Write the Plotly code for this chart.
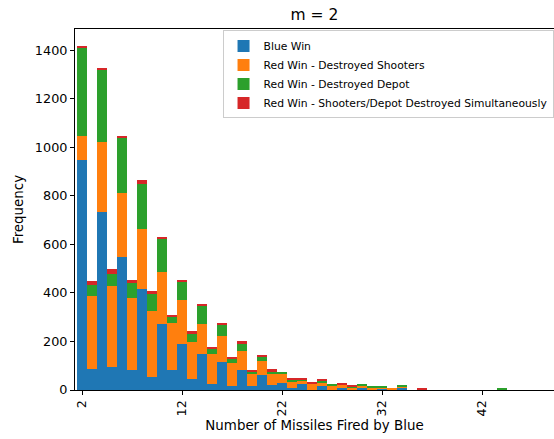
import plotly.graph_objects as go

missiles = [2, 3, 4, 5, 6, 7, 8, 9, 10, 11, 12, 13, 14, 15, 16, 17, 18, 19, 20,
            21, 22, 23, 24, 25, 26, 27, 28, 29, 30, 31, 32, 33, 34, 35, 36, 44]
blue_win = [949, 85, 732, 93, 546, 81, 418, 52, 270, 81, 188, 44, 147, 23, 114, 15, 81, 15, 60,
            19, 27, 7, 23, 0, 15, 0, 7, 4, 7, 4, 7, 0, 11, 0, 0, 0]
red_shooters = [99, 302, 291, 334, 267, 300, 247, 272, 218, 197, 182, 152, 123, 124, 107, 95, 78, 49, 58,
                50, 37, 29, 17, 27, 16, 19, 16, 7, 12, 7, 4, 7, 4, 0, 0, 0]
red_depot = [361, 44, 294, 49, 227, 58, 183, 71, 137, 26, 77, 34, 78, 20, 49, 20, 33, 12, 21,
             8, 12, 8, 4, 0, 8, 4, 0, 4, 4, 4, 4, 0, 4, 0, 0, 5]
red_both = [7, 20, 11, 21, 8, 16, 15, 11, 7, 7, 8, 11, 4, 9, 4, 4, 8, 4, 4,
            8, 0, 4, 4, 4, 4, 0, 4, 4, 0, 0, 0, 0, 0, 0, 7, 0]

series = [
    ("Blue Win", blue_win, "#1f77b4"),
    ("Red Win - Destroyed Shooters", red_shooters, "#ff7f0e"),
    ("Red Win - Destroyed Depot", red_depot, "#2ca02c"),
    ("Red Win - Shooters/Depot Destroyed Simultaneously", red_both, "#d62728"),
]
x_ticks = [2, 12, 22, 32, 42]
y_ticks = [0, 200, 400, 600, 800, 1000, 1200, 1400]

fig = go.Figure()
for name, vals, color in series:
    fig.add_trace(go.Bar(x=missiles, y=vals, name=name, width=1.0,
                         marker=dict(color=color, line=dict(width=0))))

font = "DejaVu Sans, sans-serif"
fig.update_layout(
    width=554, height=439,
    barmode="stack", bargap=0,
    paper_bgcolor="white", plot_bgcolor="white",
    margin=dict(l=75, r=0, t=29, b=49, pad=0),
    font=dict(family=font, size=12.8, color="black"),
    title=dict(text="m = 2", x=0.5, xref="paper", xanchor="center",
               y=1 - 15 / 439, yanchor="middle", font=dict(size=15.5)),
    legend=dict(x=0.308, y=0.996, xanchor="left", yanchor="top",
                traceorder="normal", bgcolor="rgba(255,255,255,0.8)",
                bordercolor="#cccccc", borderwidth=1,
                font=dict(size=10.75), tracegroupgap=0, itemwidth=30),
    showlegend=True,
)
fig.update_xaxes(range=[1.27, 49.2], tickvals=x_ticks, ticktext=[str(t) for t in x_ticks],
                 tickangle=-90, ticks="outside", ticklen=4, tickwidth=1, tickcolor="black",
                 showline=True, linecolor="black", linewidth=1, mirror=True,
                 showgrid=False, zeroline=False,
                 title=dict(text="Number of Missiles Fired by Blue", standoff=5,
                            font=dict(size=13.4)))
fig.update_yaxes(range=[0, 1487], tickvals=y_ticks, ticks="outside", ticklen=4, tickwidth=1,
                 tickcolor="black", showline=True, linecolor="black", linewidth=1,
                 showgrid=False, zeroline=False,
                 title=dict(text="Frequency", standoff=8, font=dict(size=13.4)))

fig.write_html("out.html")
